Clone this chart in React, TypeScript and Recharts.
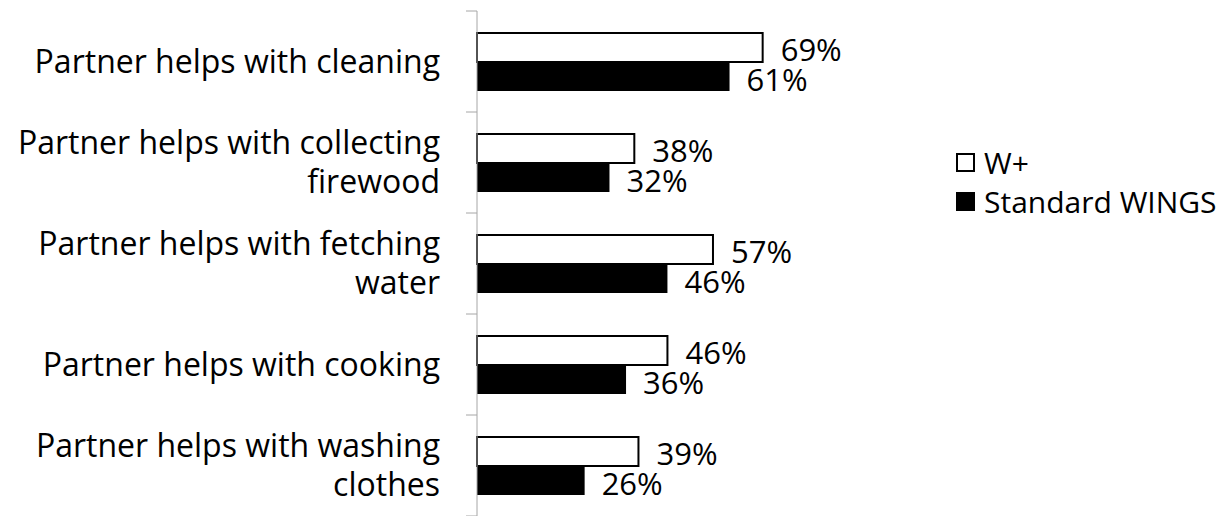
import { BarChart, Bar, XAxis, YAxis, LabelList } from 'recharts'

const categories = [
  'Partner helps with cleaning',
  'Partner helps with collecting firewood',
  'Partner helps with fetching water',
  'Partner helps with cooking',
  'Partner helps with washing clothes',
]
const tickLines = [
  ['Partner helps with cleaning'],
  ['Partner helps with collecting', 'firewood'],
  ['Partner helps with fetching', 'water'],
  ['Partner helps with cooking'],
  ['Partner helps with washing', 'clothes'],
]
const wPlus = [69, 38, 57, 46, 39]
const standardWings = [61, 32, 46, 36, 26]

const seriesNames = ['W+', 'Standard WINGS']

const data = categories.map((c, i) => ({
  name: c,
  wPlus: wPlus[i],
  standard: standardWings[i],
}))

const FONT = '"Open Sans", sans-serif'
const FS = 31
const BAND = 101

function CategoryTick(props: any) {
  const { x, y, index } = props
  const lines: string[] = tickLines[index] || []
  const lh = 39
  const start = y - ((lines.length - 1) * lh) / 2
  return (
    <g>
      <line x1={x - 11} x2={x} y1={y - BAND / 2} y2={y - BAND / 2} stroke="#a6a6a6" />
      {index === categories.length - 1 && (
        <line x1={x - 11} x2={x} y1={y + BAND / 2} y2={y + BAND / 2} stroke="#a6a6a6" />
      )}
      <text x={x - 37} y={start} textAnchor="end" fontSize={32} fontFamily={FONT} fill="#000">
        {lines.map((l, i) => (
          <tspan key={i} x={x - 37} y={start + i * lh} dy="0.35em">
            {l}
          </tspan>
        ))}
      </text>
    </g>
  )
}

function LegendBox() {
  return (
    <div
      style={{
        position: 'absolute',
        left: 956,
        top: 143,
        fontFamily: FONT,
        fontSize: 30,
        color: '#000',
        lineHeight: 1,
      }}
    >
      {seriesNames.map((n, i) => (
        <div key={n} style={{ display: 'flex', alignItems: 'center', height: 39, whiteSpace: 'nowrap' }}>
          <span
            style={{
              display: 'inline-block',
              width: 19,
              height: 19,
              boxSizing: 'border-box',
              border: '2px solid #000',
              background: i === 0 ? '#fff' : '#000',
              marginRight: 9,
            }}
          />
          <span>{n}</span>
        </div>
      ))}
    </div>
  )
}

export default function App() {
  return (
    <div style={{ position: 'fixed', left: 0, top: 0, width: 1228, height: 516, background: '#fff' }}>
      <BarChart
        width={1228}
        height={516}
        data={data}
        layout="vertical"
        margin={{ top: 11, right: 337, bottom: 0, left: 0 }}
        barGap={0}
      >
        <XAxis type="number" domain={[0, 100]} hide />
        <YAxis
          type="category"
          dataKey="name"
          width={477}
          tickLine={false}
          tickSize={0}
          tickMargin={0}
          axisLine={{ stroke: '#a6a6a6' }}
          tick={<CategoryTick />}
          interval={0}
        />
        <Bar dataKey="wPlus" barSize={29} fill="#fff" stroke="#000" strokeWidth={2} isAnimationActive={false}>
          <LabelList
            dataKey="wPlus"
            position="right"
            offset={18}
            formatter={(v: any) => `${v}%`}
            style={{ fontSize: FS, fontFamily: FONT, fill: '#000' }}
            dy={2}
          />
        </Bar>
        <Bar dataKey="standard" barSize={29} fill="#000" isAnimationActive={false}>
          <LabelList
            dataKey="standard"
            position="right"
            offset={17}
            formatter={(v: any) => `${v}%`}
            style={{ fontSize: FS, fontFamily: FONT, fill: '#000' }}
            dy={3}
          />
        </Bar>
      </BarChart>
      <LegendBox />
    </div>
  )
}
